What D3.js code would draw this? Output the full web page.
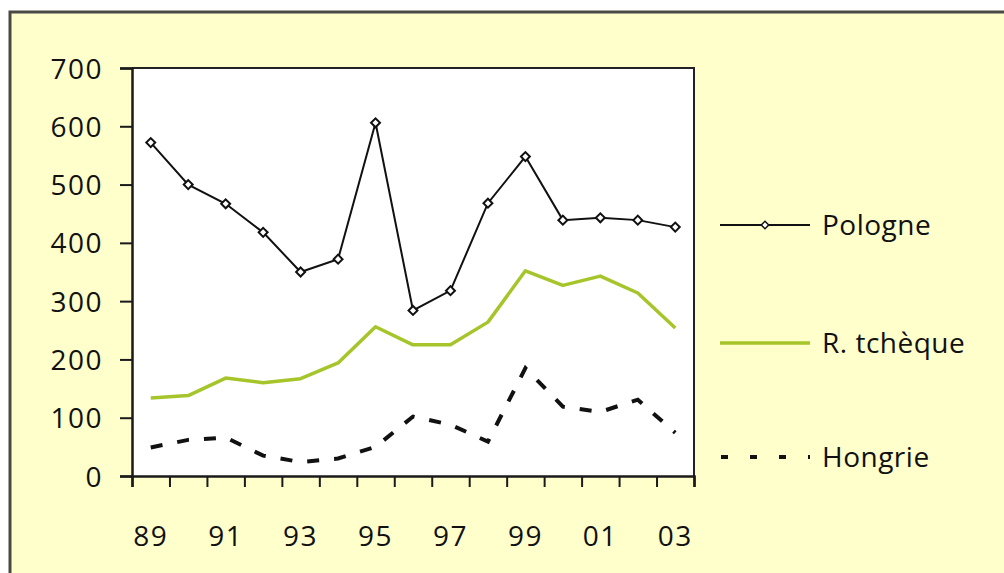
<!DOCTYPE html>
<html>
<head>
<meta charset="utf-8">
<script src="https://cdn.jsdelivr.net/npm/d3@7"></script>
<style>
  html, body { margin: 0; padding: 0; background: #ffffff; }
  svg { display: block; }
  text { font-family: "Open Sans", "Noto Sans", sans-serif; fill: #111; font-weight: 500; }
</style>
</head>
<body>
<svg id="chart" width="1004" height="573"></svg>
<script>
// Years (two-digit) along the horizontal axis
const years = ["89","90","91","92","93","94","95","96","97","98","99","00","01","02","03"];
const yearLabels = ["89","91","93","95","97","99","01","03"];
const yTicks = [0, 100, 200, 300, 400, 500, 600, 700];

// Series values
const pologne   = [572, 500, 467, 418, 350, 372, 606, 284, 318, 468, 548, 439, 443, 439, 427];
const tcheque   = [134, 138, 168, 160, 167, 194, 256, 225, 225, 264, 352, 327, 343, 314, 254];
const hongrie   = [49, 62, 66, 35, 24, 30, 50, 102, 88, 59, 185, 119, 110, 131, 74];

const seriesNames = ["Pologne", "R. tchèque", "Hongrie"];

const svg = d3.select("#chart");
const W = 1004, H = 573;

// Background panel with a frame on its top and left edges
svg.append("rect").attr("x", 10).attr("y", 11).attr("width", W - 10).attr("height", H - 11)
  .attr("fill", "#ffffcc");
svg.append("path").attr("d", `M10,${H} V12 H${W}`)
  .attr("fill", "none").attr("stroke", "#4a4a44").attr("stroke-width", 3);

const plot = { left: 132, right: 694, top: 68, bottom: 476 };

const x = d3.scaleBand().domain(years).range([plot.left, plot.right]).padding(0);
const y = d3.scaleLinear().domain([0, 700]).range([plot.bottom, plot.top]);

// White plotting area with a thin border on top/right
svg.append("rect")
  .attr("x", plot.left).attr("y", plot.top)
  .attr("width", plot.right - plot.left).attr("height", plot.bottom - plot.top)
  .attr("fill", "#ffffff");
svg.append("path")
  .attr("d", `M${plot.left},${plot.top} H${plot.right} V${plot.bottom}`)
  .attr("fill", "none").attr("stroke", "#222").attr("stroke-width", 2);

// Y axis
const yAxis = d3.axisLeft(y).tickValues(yTicks).tickSize(12).tickPadding(17).tickFormat(d3.format("d"));
const gy = svg.append("g").attr("transform", `translate(${plot.left},0)`).call(yAxis);
gy.select(".domain").attr("stroke", "#1a1a1a").attr("stroke-width", 2.5);
gy.selectAll(".tick line").attr("stroke", "#1a1a1a").attr("stroke-width", 2);
gy.selectAll(".tick text").style("font-size", "28px").attr("letter-spacing", "1.5px")
  .attr("fill", "#111").attr("dy", "0.36em");

// X axis: tick marks at band boundaries
const xb = d3.scaleLinear().domain([0, years.length]).range([plot.left, plot.right]);
const xTickAxis = d3.axisBottom(xb).tickValues(d3.range(0, years.length + 1)).tickSize(11).tickFormat("");
const gx = svg.append("g").attr("transform", `translate(0,${plot.bottom})`).call(xTickAxis);
gx.select(".domain").attr("stroke", "#1a1a1a").attr("stroke-width", 2.5);
gx.selectAll(".tick line").attr("stroke", "#1a1a1a").attr("stroke-width", 2);

// X axis labels every other year, centred on the bands
const xLabelAxis = d3.axisBottom(x).tickValues(yearLabels).tickSize(0).tickPadding(50);
const gxl = svg.append("g").attr("transform", `translate(0,${plot.bottom})`).call(xLabelAxis);
gxl.select(".domain").remove();
gxl.selectAll(".tick text").style("font-size", "28px").attr("letter-spacing", "1.5px").attr("fill", "#111");

const cx = (d, i) => x(years[i]) + x.bandwidth() / 2;
const line = d3.line().x((d, i) => cx(d, i)).y(d => y(d));

// Hongrie: dashed black
svg.append("path").datum(hongrie).attr("d", line)
  .attr("fill", "none").attr("stroke", "#111").attr("stroke-width", 4)
  .attr("stroke-dasharray", "12,15");

// R. tchèque: yellow-green
svg.append("path").datum(tcheque).attr("d", line)
  .attr("fill", "none").attr("stroke", "#a6c52a").attr("stroke-width", 3.5)
  .attr("stroke-linejoin", "round");

// Pologne: black line with open diamond markers
svg.append("path").datum(pologne).attr("d", line)
  .attr("fill", "none").attr("stroke", "#111").attr("stroke-width", 2);
const diamond = d3.symbol().type(d3.symbolSquare).size(40);
svg.selectAll(".pt").data(pologne).enter().append("path")
  .attr("class", "pt")
  .attr("d", diamond)
  .attr("transform", (d, i) => `translate(${cx(d, i)},${y(d)}) rotate(45)`)
  .attr("fill", "#fff").attr("stroke", "#111").attr("stroke-width", 2);

// Legend
const legendY = [225, 343, 457];
const lg = svg.append("g");
lg.append("line").attr("x1", 720).attr("x2", 810).attr("y1", legendY[0]).attr("y2", legendY[0])
  .attr("stroke", "#111").attr("stroke-width", 2);
lg.append("path").attr("d", d3.symbol().type(d3.symbolSquare).size(28))
  .attr("transform", `translate(765,${legendY[0]}) rotate(45)`)
  .attr("fill", "#fff").attr("stroke", "#111").attr("stroke-width", 1.5);
lg.append("line").attr("x1", 720).attr("x2", 810).attr("y1", legendY[1]).attr("y2", legendY[1])
  .attr("stroke", "#a6c52a").attr("stroke-width", 3.5);
lg.append("line").attr("x1", 721).attr("x2", 810).attr("y1", legendY[2]).attr("y2", legendY[2])
  .attr("stroke", "#111").attr("stroke-width", 4).attr("stroke-dasharray", "7,22");
lg.selectAll("text").data(seriesNames).enter().append("text")
  .attr("x", 822).attr("y", (d, i) => legendY[i])
  .attr("dy", "0.36em")
  .style("font-size", "28px").attr("letter-spacing", "0.5px")
  .text(d => d);
</script>
</body>
</html>
